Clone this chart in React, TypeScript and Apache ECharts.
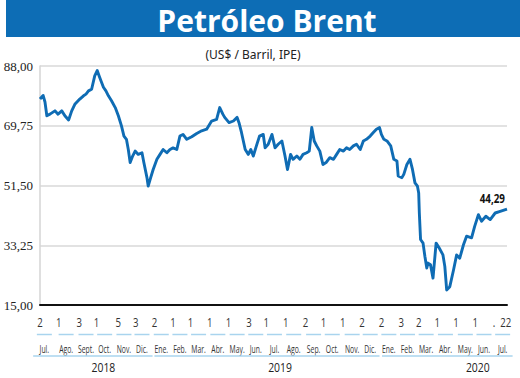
import React, { useEffect, useRef } from "react";
import * as echarts from "echarts";

const titleText = "Petróleo Brent";
const subtitleText = "(US$ / Barril, IPE)";

const yMin = 15;
const yMax = 88;
const yStep = 18.25;

const axisStart = "2018-07-02";
const axisEnd = "2020-07-22";

const priceDates = [
  "2018-07-02","2018-07-07","2018-07-10","2018-07-13","2018-07-18","2018-07-26","2018-07-31","2018-08-06",
  "2018-08-11","2018-08-17","2018-08-22","2018-08-27","2018-09-04","2018-09-10","2018-09-14","2018-09-18",
  "2018-09-23","2018-09-28","2018-10-02","2018-10-05","2018-10-08","2018-10-12","2018-10-16","2018-10-20",
  "2018-10-25","2018-10-31","2018-11-05","2018-11-10","2018-11-14","2018-11-18","2018-11-21","2018-11-24",
  "2018-11-28","2018-12-02","2018-12-07","2018-12-13","2018-12-16","2018-12-21","2018-12-23","2018-12-27",
  "2018-12-31","2019-01-06","2019-01-11","2019-01-16","2019-01-22","2019-01-27","2019-02-01","2019-02-07",
  "2019-02-12","2019-02-17","2019-02-23","2019-03-03","2019-03-11","2019-03-19","2019-03-27","2019-04-04",
  "2019-04-12","2019-04-17","2019-04-22","2019-04-25","2019-05-02","2019-05-09","2019-05-15","2019-05-18",
  "2019-05-22","2019-05-28","2019-06-02","2019-06-06","2019-06-10","2019-06-15","2019-06-20","2019-06-26",
  "2019-06-29","2019-07-04","2019-07-10","2019-07-15","2019-07-20","2019-07-26","2019-07-31","2019-08-04",
  "2019-08-09","2019-08-13","2019-08-19","2019-08-24","2019-08-29","2019-09-04","2019-09-08","2019-09-12",
  "2019-09-16","2019-09-20","2019-09-25","2019-09-30","2019-10-05","2019-10-11","2019-10-17","2019-10-22",
  "2019-10-27","2019-11-02","2019-11-07","2019-11-12","2019-11-18","2019-11-23","2019-11-29","2019-12-04",
  "2019-12-09","2019-12-15","2019-12-20","2019-12-25","2019-12-30","2020-01-02","2020-01-06","2020-01-11",
  "2020-01-17","2020-01-22","2020-01-27","2020-01-29","2020-02-04","2020-02-07","2020-02-12","2020-02-17",
  "2020-02-21","2020-02-25","2020-02-29","2020-03-02","2020-03-03","2020-03-05","2020-03-09","2020-03-12",
  "2020-03-15","2020-03-17","2020-03-21","2020-03-25","2020-03-30","2020-04-04","2020-04-10","2020-04-13",
  "2020-04-16","2020-04-21","2020-04-27","2020-05-02","2020-05-07","2020-05-13","2020-05-18","2020-05-26",
  "2020-05-31","2020-06-06","2020-06-11","2020-06-18","2020-06-25","2020-07-03","2020-07-11","2020-07-22"
];

const priceValues = [
  77.9, 79.0, 77.0, 72.8, 73.3, 74.3, 73.3, 74.3,
  72.8, 71.5, 74.3, 76.3, 77.9, 78.9, 79.4, 80.4,
  80.9, 85.0, 86.6, 85.0, 83.5, 81.5, 80.4, 78.9,
  77.4, 75.3, 72.8, 69.7, 66.6, 65.6, 62.5, 58.5,
  60.5, 62.0, 61.0, 61.5, 58.5, 53.9, 51.3, 53.9,
  56.4, 59.5, 61.0, 62.5, 61.5, 62.5, 63.0, 62.5,
  66.6, 67.1, 65.6, 66.4, 67.4, 68.2, 68.7, 71.2,
  71.7, 75.3, 73.3, 72.3, 70.7, 71.2, 72.3, 70.7,
  67.7, 62.5, 61.0, 62.5, 60.5, 63.6, 66.6, 67.1,
  63.0, 64.1, 67.1, 63.0, 64.1, 65.1, 60.5, 56.4,
  61.0, 59.5, 60.5, 59.5, 61.0, 61.5, 62.0, 69.2,
  65.1, 63.6, 62.0, 57.9, 58.5, 60.0, 59.5, 61.0,
  62.5, 62.0, 63.0, 62.5, 63.6, 64.1, 62.5, 65.1,
  65.6, 66.6, 67.7, 68.7, 69.2, 67.1, 65.6, 65.1,
  63.6, 59.5, 59.0, 54.4, 53.9, 54.9, 57.9, 59.5,
  56.4, 52.3, 51.3, 49.2, 43.2, 35.0, 33.9, 29.8,
  26.3, 27.8, 27.3, 23.2, 33.9, 32.4, 30.3, 26.8,
  19.6, 20.6, 25.7, 30.3, 29.3, 33.4, 36.0, 35.5,
  39.0, 42.6, 40.6, 42.1, 41.1, 43.1, 43.6, 44.29
];

const lastValueLabel = "44,29";

const dayLabels = [
  "2","1","3","1","5","3",
  "2","1","1","1","1","3","1","1","2","1","1","2",
  "2","3","2","1","1","1",".","22"
];
const dayLabelDates = [
  "2018-07-02","2018-08-01","2018-09-03","2018-10-01","2018-11-05","2018-12-03",
  "2019-01-02","2019-02-01","2019-03-01","2019-04-01","2019-05-01","2019-06-03",
  "2019-07-01","2019-08-01","2019-09-02","2019-10-01","2019-11-01","2019-12-02",
  "2020-01-02","2020-02-03","2020-03-02","2020-04-01","2020-05-01","2020-06-01",
  "2020-07-01","2020-07-20"
];

const monthLabels = [
  "Jul.","Ago.","Sept.","Oct.","Nov.","Dic.",
  "Ene.","Feb.","Mar.","Abr.","May.","Jun.","Jul.","Ago.","Sep.","Oct.","Nov.","Dic.",
  "Ene.","Feb.","Mar.","Abr.","May.","Jun.","Jul."
];
const monthLabelDates = [
  "2018-07-09","2018-08-13","2018-09-14","2018-10-14","2018-11-14","2018-12-13",
  "2019-01-13","2019-02-12","2019-03-14","2019-04-14","2019-05-15","2019-06-14",
  "2019-07-14","2019-08-14","2019-09-15","2019-10-15","2019-11-16","2019-12-15",
  "2020-01-14","2020-02-13","2020-03-14","2020-04-14","2020-05-16","2020-06-15",
  "2020-07-15"
];

const yearLabels = ["2018", "2019", "2020"];
const yearLabelDates = ["2018-10-12", "2019-07-23", "2020-06-05"];
const yearSpanStarts = ["2018-06-21", "2019-01-02", "2020-01-03"];
const yearSpanEnds = ["2018-12-30", "2019-12-30", "2020-07-31"];

const BLUE = "#0f6cb4";
const LIGHT_BLUE = "#a9d4ee";
const sansFont = "'Open Sans', 'Noto Sans', sans-serif";

const DAY = 86400000;
function ts(s: string): number {
  const [y, m, d] = s.split("-").map(Number);
  return Date.UTC(y, m - 1, d);
}
// day offset from the axis start
function dx(s: string): number {
  return Math.round((ts(s) - ts(axisStart)) / DAY);
}

// a custom series that writes condensed texts under the plot, placed by the x scale
function textRow(
  dates: string[],
  labels: string[],
  dy: number,
  size: number,
  scaleX: number,
  color: string
) {
  return {
    type: "custom",
    xAxisIndex: 0,
    yAxisIndex: 0,
    silent: true,
    clip: false,
    data: dates.map((d, i) => [dx(d), yMin, i]),
    encode: { x: 0, y: 1 },
    renderItem: (_p: any, api: any) => {
      const p = api.coord([api.value(0), yMin]);
      const i = api.value(2);
      return {
        type: "text",
        x: p[0],
        y: p[1] + dy,
        scaleX,
        style: {
          text: labels[i],
          fill: color,
          font: `${size}px ${sansFont}`,
          align: "center",
          verticalAlign: "middle",
        },
      };
    },
  };
}

export default function App() {
  const ref = useRef<HTMLDivElement>(null);

  useEffect(() => {
    document.body.style.margin = "0";
    if (!ref.current) return;
    const chart = echarts.init(ref.current, null, { renderer: "svg" });

    const lineData = priceDates.map((d, i) => [dx(d), priceValues[i]]);
    const lastIdx = priceDates.length - 1;

    chart.setOption({
      animation: false,
      backgroundColor: "#ffffff",
      grid: { left: 40, right: 13, top: 66, bottom: 73, containLabel: false },
      graphic: [
        {
          type: "rect",
          left: 6,
          top: 0,
          shape: { width: 514, height: 37 },
          style: { fill: "#0d6db5" },
          silent: true,
        },
        {
          type: "text",
          x: 267,
          y: 20,
          style: {
            text: titleText,
            fill: "#ffffff",
            font: "bold 30px 'Open Sans', Lato, sans-serif",
            align: "center",
            verticalAlign: "middle",
          },
          silent: true,
        },
        {
          type: "text",
          x: 253,
          y: 54,
          style: {
            text: subtitleText,
            fill: "#222222",
            font: "12px 'Noto Sans', 'Open Sans', sans-serif",
            align: "center",
            verticalAlign: "middle",
          },
          silent: true,
        },
      ],
      xAxis: {
        type: "value",
        min: 0,
        max: dx(axisEnd),
        axisLine: { show: true, lineStyle: { color: "#111111", width: 2 } },
        axisTick: { show: false },
        axisLabel: { show: false },
        splitLine: { show: false },
        z: 5,
      },
      yAxis: {
        type: "value",
        min: yMin,
        max: yMax,
        interval: yStep,
        axisLine: { show: true, lineStyle: { color: "#d4d4d4", width: 1.5 } },
        axisTick: { show: false },
        splitLine: { show: true, lineStyle: { color: "#d9d9d9", width: 1.5 } },
        axisLabel: {
          formatter: (v: number) => v.toFixed(2).replace(".", ","),
          fontFamily: "'Liberation Serif', 'DejaVu Serif', serif",
          fontSize: 13,
          color: "#222222",
          margin: 7,
        },
      },
      series: [
        {
          type: "line",
          data: lineData,
          showSymbol: false,
          symbol: "none",
          lineStyle: { color: BLUE, width: 2.9, join: "round" },
          z: 3,
        },
        {
          type: "custom",
          silent: true,
          clip: false,
          data: [[dx(priceDates[lastIdx]), priceValues[lastIdx]]],
          renderItem: (_p: any, api: any) => {
            const p = api.coord([api.value(0), api.value(1)]);
            return {
              type: "text",
              x: p[0] - 2,
              y: p[1] - 11,
              scaleX: 0.82,
              style: {
                text: lastValueLabel,
                fill: "#111111",
                font: `bold 12px ${sansFont}`,
                align: "right",
                verticalAlign: "middle",
              },
            };
          },
        },
        textRow(dayLabelDates, dayLabels, 17, 12, 0.8, "#333333"),
        textRow(monthLabelDates, monthLabels, 43.5, 11, 0.62, "#333333"),
        textRow(yearLabelDates, yearLabels, 61.5, 13, 0.8, "#222222"),
        {
          type: "custom",
          silent: true,
          clip: false,
          data: monthLabelDates.map((d) => [dx(d), yMin]),
          renderItem: (_p: any, api: any) => {
            const p = api.coord([api.value(0), yMin]);
            return {
              type: "line",
              shape: { x1: p[0] - 7.5, y1: p[1] + 29.5, x2: p[0] + 7.5, y2: p[1] + 29.5 },
              style: { stroke: LIGHT_BLUE, lineWidth: 1.5 },
            };
          },
        },
        {
          type: "custom",
          silent: true,
          clip: false,
          encode: { x: [0, 1], y: 2 },
          data: yearSpanStarts.map((d, i) => [dx(d), dx(yearSpanEnds[i]), yMin]),
          renderItem: (_p: any, api: any) => {
            const a = api.coord([api.value(0), yMin]);
            const b = api.coord([api.value(1), yMin]);
            return {
              type: "line",
              shape: { x1: a[0], y1: a[1] + 51, x2: b[0], y2: b[1] + 51 },
              style: { stroke: LIGHT_BLUE, lineWidth: 1.5 },
            };
          },
        },
      ],
    });

    return () => chart.dispose();
  }, []);

  return (
    <div
      ref={ref}
      style={{ position: "fixed", left: 0, top: 0, width: 520, height: 378, background: "#fff" }}
    />
  );
}
